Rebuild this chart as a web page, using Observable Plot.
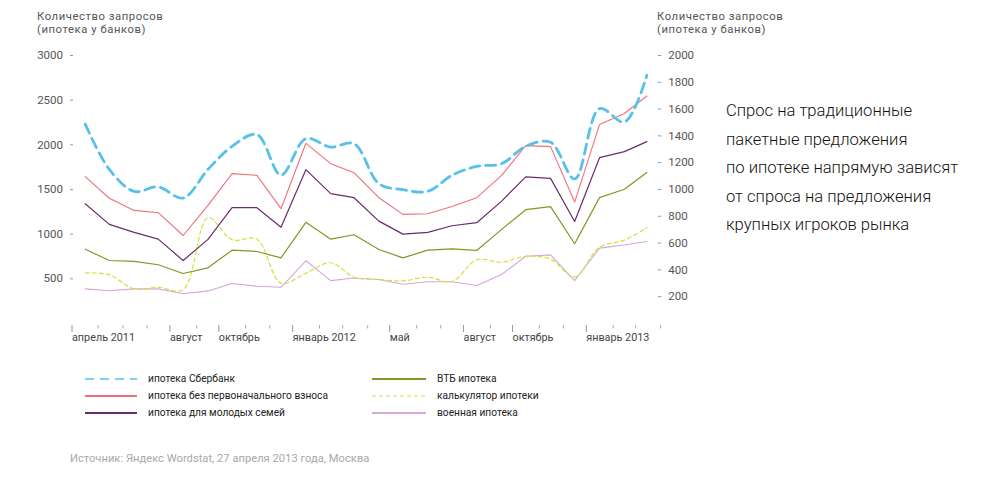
<!DOCTYPE html>
<html>
<head>
<meta charset="utf-8">
<script src="https://cdn.jsdelivr.net/npm/d3@7"></script>
<script src="https://cdn.jsdelivr.net/npm/@observablehq/plot@0.6"></script>
<style>
  body { margin: 0; background: #fff; font-family: Roboto, "Noto Sans", sans-serif; }
  #wrap { position: relative; width: 1001px; height: 484px; overflow: hidden; background: #fff; }
  #chart { position: absolute; left: 0; top: 0; }
  .ttl { position: absolute; font-size: 11.3px; line-height: 13px; color: #555; white-space: nowrap; letter-spacing: 0.55px; }
  .leg { position: absolute; font-size: 10.2px; color: #222; white-space: nowrap; line-height: 14px; }
  .legline { position: absolute; }
  #source { position: absolute; left: 70px; top: 451px; font-size: 11.2px; color: #a8a8a8; white-space: nowrap; line-height: 16px; }
  #note { position: absolute; left: 726px; top: 97px; font-size: 16.6px; line-height: 28.6px; color: #111; white-space: nowrap; font-weight: 300; }
</style>
</head>
<body>
<div id="wrap">
  <div id="chart"></div>
  <div class="ttl" style="left:37px; top:10px;">Количество запросов<br>(ипотека у банков)</div>
  <div class="ttl" style="left:657px; top:10px;">Количество запросов<br>(ипотека у банков)</div>
  <div id="legend"></div>
  <div id="source">Источник: Яндекс Wordstat, 27 апреля 2013 года, Москва</div>
  <div id="note">Спрос на традиционные<br>пакетные предложения<br>по ипотеке напрямую зависят<br>от спроса на предложения<br>крупных игроков рынка</div>
</div>
<script>
// ---- data ----
const months = ["2011-04","2011-05","2011-06","2011-07","2011-08","2011-09","2011-10","2011-11","2011-12",
  "2012-01","2012-02","2012-03","2012-04","2012-05","2012-06","2012-07","2012-08","2012-09","2012-10","2012-11","2012-12",
  "2013-01","2013-02","2013-03"];

// left axis series
const sberbank      = [2232,1725,1479,1529,1404,1725,1983,2115,1662,2069,1975,2013,1565,1498,1479,1658,1759,1789,1983,2028,1618,2406,2255,2779];
const noDownPayment = [1643,1402,1266,1240,985,1322,1677,1658,1285,2017,1789,1688,1408,1221,1229,1310,1408,1658,1991,1980,1359,2227,2350,2546];
const youngFamilies = [1341,1109,1019,944,705,941,1296,1296,1078,1722,1453,1408,1146,1000,1019,1094,1128,1370,1641,1624,1142,1856,1924,2036];
// right axis series
const vtb           = [554,470,464,438,373,415,547,537,490,755,629,662,552,490,547,557,545,702,849,872,595,939,1002,1126];
const calculator    = [378,363,258,270,253,789,625,629,300,376,453,345,328,318,345,313,475,457,501,480,348,569,622,715];
const military      = [258,244,258,258,222,243,298,278,270,468,320,339,328,293,311,311,283,365,502,512,320,562,586,612];

const leftTicks  = [500,1000,1500,2000,2500,3000];
const rightTicks = [200,400,600,800,1000,1200,1400,1600,1800,2000];
const majorTickMonths = ["2011-04","2011-08","2011-10","2012-01","2012-05","2012-08","2012-10","2013-01"];
const majorTickLabels = ["апрель 2011","август","октябрь","январь 2012","май","август","октябрь","январь 2013"];

// ---- series definitions (styles) ----
const series = [
  {name: "военная ипотека",                    values: military,      axis: "right", color: "#d7a6dc", width: 1.1, dash: null,   curve: "linear"},
  {name: "калькулятор ипотеки",                values: calculator,    axis: "right", color: "#cfe23c", width: 1.2, dash: "4,3",  curve: "catmull-rom"},
  {name: "ВТБ ипотека",                        values: vtb,           axis: "right", color: "#7d9a26", width: 1.2, dash: null,   curve: "linear"},
  {name: "ипотека для молодых семей",          values: youngFamilies, axis: "left",  color: "#6c2c6c", width: 1.2, dash: null,   curve: "linear"},
  {name: "ипотека без первоначального взноса", values: noDownPayment, axis: "left",  color: "#f0707a", width: 1.1, dash: null,   curve: "linear"},
  {name: "ипотека Сбербанк",                   values: sberbank,      axis: "left",  color: "#57c1ea", width: 2.8, dash: "10,6", curve: "catmull-rom"}
];
const RATIO = 1.5; // left-axis units per right-axis unit

const parseMonth = d3.utcParse("%Y-%m");
const midMonth = m => d3.utcDay.offset(parseMonth(m), 14);
const dates = months.map(midMonth);

const marks = series.map(s => {
  const rows = s.values.map((v, i) => ({date: dates[i], value: v}));
  return Plot.line(rows, {
    x: "date",
    y: d => s.axis === "right" ? d.value * RATIO : d.value,
    stroke: s.color,
    strokeWidth: s.width,
    strokeDasharray: s.dash,
    curve: s.curve
  });
});

const allMonthTicks = d3.utcMonth.range(parseMonth("2011-04"), d3.utcMonth.offset(parseMonth("2013-04"), 1));
const majorSet = new Set(majorTickMonths.map(m => +parseMonth(m)));
const minorTicks = allMonthTicks.filter(d => !majorSet.has(+d));
const majorTicks = majorTickMonths.map(parseMonth);
const labelMap = new Map(majorTickMonths.map((m, i) => [+parseMonth(m), majorTickLabels[i]]));

const chart = Plot.plot({
  width: 700,
  height: 350,
  marginLeft: 73,
  marginRight: 43,
  marginTop: 40,
  marginBottom: 25,
  x: {type: "utc", domain: [parseMonth("2011-04"), parseMonth("2013-04")], range: [73.5, 660]},
  y: {type: "linear", domain: [500, 3000], range: [278.3, 55]},
  style: {fontFamily: "Roboto, 'Noto Sans', sans-serif", background: "transparent", overflow: "visible"},
  marks: [
    Plot.axisY({anchor: "left", ticks: leftTicks, tickFormat: d => String(d), tickSize: 3, tickPadding: 7.5, fontSize: 11.5,
      fill: "#555", stroke: "#999", label: null}),
    Plot.axisY({anchor: "right", ticks: rightTicks.map(r => r * RATIO), tickFormat: d => String(Math.round(d / RATIO)),
      tickSize: 3.3, tickPadding: 7.4, fontSize: 11.5, fill: "#555", stroke: "#999", label: null}),
    Plot.axisX({ticks: majorTicks, tickSize: 7, tickPadding: 1, tickFormat: d => labelMap.get(+d),
      textAnchor: "start", dx: -2, fontSize: 10.8, fill: "#444", stroke: "#999", label: null}),
    Plot.axisX({ticks: minorTicks, tickSize: 3.5, tickFormat: () => "", stroke: "#aaa", label: null}),
    ...marks
  ]
});
document.getElementById("chart").appendChild(chart);

// ---- legend ----
const legendOrder = ["ипотека Сбербанк","ипотека без первоначального взноса","ипотека для молодых семей",
                     "ВТБ ипотека","калькулятор ипотеки","военная ипотека"];
const legendWidths = {"ипотека Сбербанк": 1.6, "калькулятор ипотеки": 1.2};
const legend = document.getElementById("legend");
const rowY = [379, 396, 412.7];
legendOrder.forEach((name, k) => {
  const s = series.find(t => t.name === name);
  const col = k < 3 ? 0 : 1;
  const row = k % 3;
  const lineX = col === 0 ? 85 : 372;
  const lineW = col === 0 ? 52 : 54;
  const textX = col === 0 ? 148 : 437;
  const cy = rowY[row];
  const svg = d3.create("svg").attr("class", "legline").attr("width", lineW).attr("height", 6)
    .style("left", lineX + "px").style("top", (cy - 3) + "px");
  svg.append("line").attr("x1", 0).attr("x2", lineW).attr("y1", 3).attr("y2", 3)
    .attr("stroke", s.color).attr("stroke-width", legendWidths[name] || 2)
    .attr("stroke-dasharray", s.dash === "10,6" ? "9,6" : s.dash);
  legend.appendChild(svg.node());
  const t = document.createElement("div");
  t.className = "leg";
  t.style.left = textX + "px";
  t.style.top = (cy - 7) + "px";
  t.textContent = name;
  legend.appendChild(t);
});
</script>
</body>
</html>
